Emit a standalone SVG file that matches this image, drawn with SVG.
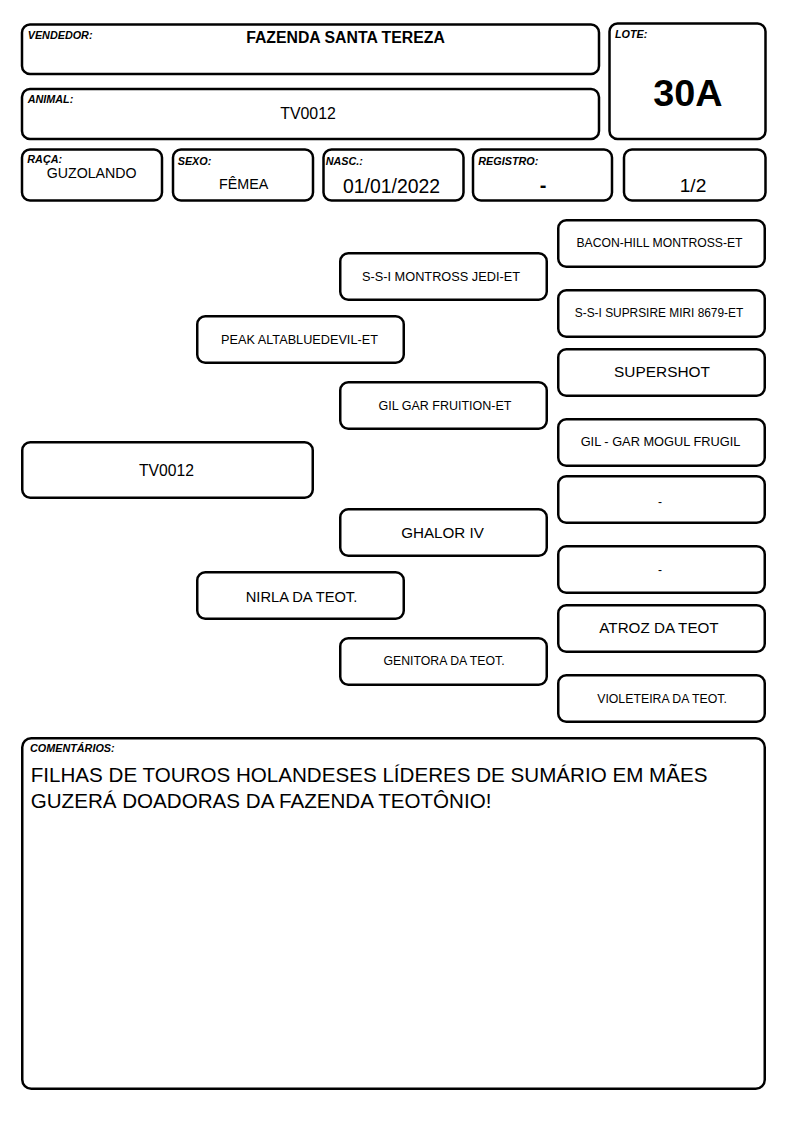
<svg xmlns="http://www.w3.org/2000/svg" width="794" height="1123" viewBox="0 0 794 1123">
<style>
rect.b{fill:#fff;stroke:#000;stroke-width:2.5}
text{font-family:"Liberation Sans",Arial,sans-serif;fill:#000}
.lbl{font-size:10.8px;font-weight:bold;font-style:italic}
.c{text-anchor:middle}
</style>
<rect width="794" height="1123" fill="#fff"/>
<g id="vendedor">
<rect class="b" x="22" y="24.5" width="577" height="49.5" rx="8"/>
<text class="lbl" x="27.7" y="39">VENDEDOR:</text>
<text class="c" x="345.5" y="43.3" font-size="15.8" font-weight="bold">FAZENDA SANTA TEREZA</text>
</g>
<g id="animal">
<rect class="b" x="22" y="89" width="577" height="50" rx="8"/>
<text class="lbl" x="27.7" y="103.3">ANIMAL:</text>
<text class="c" x="308" y="119.3" font-size="15.9">TV0012</text>
</g>
<g id="lote">
<rect class="b" x="609.5" y="23.5" width="156" height="115.5" rx="8"/>
<text class="lbl" x="615" y="38.3">LOTE:</text>
<text class="c" x="688" y="106" font-size="37.8" font-weight="bold">30A</text>
</g>
<g id="raca">
<rect class="b" x="22" y="149.5" width="140" height="51" rx="8"/>
<text class="lbl" x="27.3" y="162.7">RAÇA:</text>
<text class="c" x="91.7" y="178.3" font-size="14.2">GUZOLANDO</text>
</g>
<g id="sexo">
<rect class="b" x="173" y="149.5" width="140" height="51" rx="8"/>
<text class="lbl" x="177.7" y="165">SEXO:</text>
<text class="c" x="243.7" y="189" font-size="14.3">FÊMEA</text>
</g>
<g id="nasc">
<rect class="b" x="323.5" y="149.5" width="140" height="51" rx="8"/>
<text class="lbl" x="325.7" y="165">NASC.:</text>
<text class="c" x="391.5" y="193" font-size="19.4">01/01/2022</text>
</g>
<g id="registro">
<rect class="b" x="473" y="149.5" width="139" height="51" rx="8"/>
<text class="lbl" x="478.3" y="165">REGISTRO:</text>
<text class="c" x="543" y="192" font-size="20" font-weight="bold">-</text>
</g>
<g id="fracao">
<rect class="b" x="624" y="149.5" width="141.5" height="51" rx="8"/>
<text class="c" x="693" y="191.7" font-size="19.2">1/2</text>
</g>
<g id="connectors"/>
<g id="p-tv0012">
<rect class="b" x="22.25" y="442.25" width="290.5" height="55.5" rx="8"/>
<text class="c" x="166.5" y="476" font-size="15.7">TV0012</text>
</g>
<g id="p-peak">
<rect class="b" x="197.25" y="316.25" width="206.5" height="46.5" rx="8"/>
<text class="c" x="299.5" y="344" font-size="12.7">PEAK ALTABLUEDEVIL-ET</text>
</g>
<g id="p-nirla">
<rect class="b" x="197.25" y="572.25" width="206.5" height="46.5" rx="8"/>
<text class="c" x="301.5" y="602" font-size="14.7">NIRLA DA TEOT.</text>
</g>
<g id="p-jedi">
<rect class="b" x="340.25" y="253.25" width="206.5" height="46.5" rx="8"/>
<text class="c" x="441" y="281" font-size="12.75">S-S-I MONTROSS JEDI-ET</text>
</g>
<g id="p-fruition">
<rect class="b" x="340.25" y="382.25" width="206.5" height="46.5" rx="8"/>
<text class="c" x="445" y="410" font-size="12.5">GIL GAR FRUITION-ET</text>
</g>
<g id="p-ghalor">
<rect class="b" x="340.25" y="509.25" width="206.5" height="46.5" rx="8"/>
<text class="c" x="442.5" y="538" font-size="15.2">GHALOR IV</text>
</g>
<g id="p-genitora">
<rect class="b" x="340.25" y="638.25" width="206.5" height="46.5" rx="8"/>
<text class="c" x="444" y="665" font-size="12.3">GENITORA DA TEOT.</text>
</g>
<g id="p-bacon">
<rect class="b" x="558.25" y="220.25" width="206.5" height="46.5" rx="8"/>
<text class="c" x="659.5" y="247" font-size="12.2">BACON-HILL MONTROSS-ET</text>
</g>
<g id="p-suprsire">
<rect class="b" x="558.25" y="290.25" width="206.5" height="46.5" rx="8"/>
<text class="c" x="659" y="317" font-size="11.9">S-S-I SUPRSIRE MIRI 8679-ET</text>
</g>
<g id="p-supershot">
<rect class="b" x="558.25" y="349.25" width="206.5" height="46.5" rx="8"/>
<text class="c" x="662" y="377" font-size="15.4">SUPERSHOT</text>
</g>
<g id="p-mogul">
<rect class="b" x="558.25" y="419.25" width="206.5" height="46.5" rx="8"/>
<text class="c" x="660.5" y="446" font-size="12.8">GIL - GAR MOGUL FRUGIL</text>
</g>
<g id="p-dash1">
<rect class="b" x="558.25" y="476.25" width="206.5" height="46.5" rx="8"/>
<text class="c" x="660" y="505.5" font-size="12">-</text>
</g>
<g id="p-dash2">
<rect class="b" x="558.25" y="546.25" width="206.5" height="46.5" rx="8"/>
<text class="c" x="660" y="573.5" font-size="12">-</text>
</g>
<g id="p-atroz">
<rect class="b" x="558.25" y="605.25" width="206.5" height="46.5" rx="8"/>
<text class="c" x="659" y="633" font-size="15.2">ATROZ DA TEOT</text>
</g>
<g id="p-violeteira">
<rect class="b" x="558.25" y="675.25" width="206.5" height="46.5" rx="8"/>
<text class="c" x="662" y="703" font-size="12.3">VIOLETEIRA DA TEOT.</text>
</g>
<g id="comentarios">
<rect class="b" x="22.25" y="738.25" width="742.5" height="350.5" rx="9"/>
<text class="lbl" x="30" y="752.3">COMENTÁRIOS:</text>
<text x="30.7" y="782" font-size="20.6">FILHAS DE TOUROS HOLANDESES LÍDERES DE SUMÁRIO EM MÃES</text>
<text x="30.7" y="808" font-size="20.6">GUZERÁ DOADORAS DA FAZENDA TEOTÔNIO!</text>
</g>
</svg>
